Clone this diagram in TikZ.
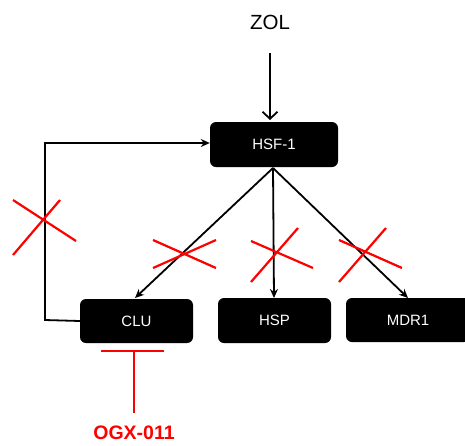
\documentclass[tikz,border=0pt]{standalone}
\usepackage{fontspec}
\setmainfont{Liberation Sans}
\usetikzlibrary{arrows.meta}
\begin{document}
\begin{tikzpicture}[x=1pt,y=-1pt,
  box/.style={fill=black,rounded corners=6pt,text=white,font=\fontsize{15}{18}\selectfont,inner sep=0pt},
  conn/.style={draw=black,line width=1.8pt},
  arr/.style={conn,-{Stealth[length=9pt,width=8pt]}},
  cross/.style={draw=red,line width=2.2pt}]
\clip (0,0) rectangle (465,445);
\useasboundingbox (0,0) rectangle (465,445);
\node[box,minimum width=128pt,minimum height=45pt] (hsf) at (274,144.5) {HSF-1};
\node[box,minimum width=113pt,minimum height=44pt] (clu) at (136.5,321) {CLU};
\node[box,minimum width=113pt,minimum height=45pt] (hsp) at (274.5,320.5) {HSP};
\node[box,minimum width=124pt,minimum height=44pt] (mdr) at (408,320) {MDR1};
\node[font=\fontsize{20.5}{24}\selectfont] (zol) at (270,22) {ZOL};
\node[font=\bfseries\fontsize{19.5}{23}\selectfont,text=red] (ogx) at (134,433) {OGX-011};
\coordinate (zs) at (270,53);
\coordinate (src) at (273,168);
\coordinate (fbl) at (45,320);
\coordinate (fbt) at (45,143);
\coordinate (inh) at (134,351);
\coordinate (inhb) at (134,413);
\draw[conn,-{Straight Barb[length=7pt,width=15pt,line width=1.8pt]}] (zs) -- (270,120);
\draw[arr] (src) -- (135,298);
\draw[arr] (src) -- (274,298);
\draw[arr] (src) -- (408,298);
\draw[conn,-{Stealth[length=9pt,width=8pt]}] (clu.west) -- (fbl) -- (fbt) -- (hsf.west |- fbt);
% inhibition
\draw[cross] (101,351) -- (164,351);
\draw[cross] (inh) -- (inhb);
% crosses
\draw[cross] (13,200) -- (76,241);
\draw[cross] (13,255) -- (60,200);
\draw[cross] (153,240) -- (216,268);
\draw[cross] (153,268) -- (216,240);
\draw[cross] (251,241) -- (313,268);
\draw[cross] (251,282) -- (298,228);
\draw[cross] (339,240) -- (402,268);
\draw[cross] (339,282) -- (386,228);
\end{tikzpicture}
\end{document}
